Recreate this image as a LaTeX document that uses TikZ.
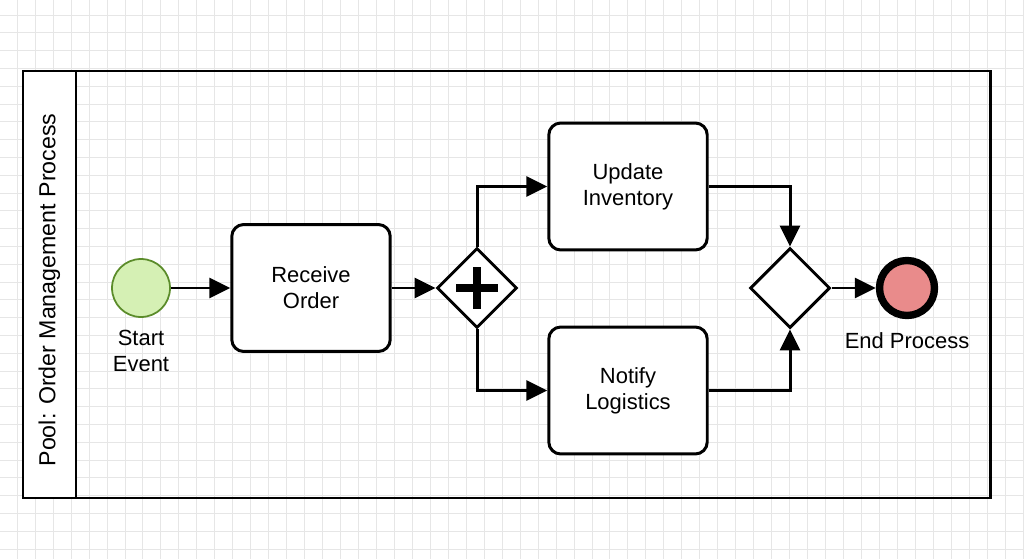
\documentclass[tikz,border=0pt]{standalone}
\usepackage{fontspec}
\setmainfont{Liberation Sans}
\usetikzlibrary{shapes.geometric,arrows.meta}

\definecolor{startgreen}{HTML}{D5F0B4}
\definecolor{startborder}{HTML}{5B8C2A}
\definecolor{endred}{HTML}{E98B8B}
\definecolor{gridgray}{HTML}{E6E6E6}

\begin{document}
\begin{tikzpicture}[x=0.02cm, y=0.02cm,
    gridline/.style={draw=gridgray, line width=0.55pt},
    task/.style={draw, rounded corners=0.24cm, line width=1.7pt, fill=white,
        minimum width=3.17cm, minimum height=2.54cm, align=center,
        font=\fontsize{12.5}{14.8}\selectfont},
    gateway/.style={draw, diamond, aspect=1, line width=1.7pt, fill=white,
        minimum size=1.6cm, inner sep=0pt},
    startev/.style={draw=startborder, circle, fill=startgreen, line width=1pt,
        minimum size=1.16cm, inner sep=0pt},
    endev/.style={draw, circle, fill=endred, line width=4.2pt,
        minimum size=1.1cm, inner sep=0pt},
    lbl/.style={align=center, font=\fontsize{12.5}{14.8}\selectfont},
    flow/.style={line width=1.7pt, -{Triangle[length=0.42cm, width=0.4cm]}}
]

\useasboundingbox (0,0) rectangle (1024,559);
\fill[white] (0,0) rectangle (1024,559);

% Background grid
\foreach \i in {0,...,57}{
    \draw[gridline] (\i*17.96-0.7, 0) -- (\i*17.96-0.7, 559);
}
\foreach \j in {0,...,31}{
    \draw[gridline] (0, 559-15-\j*17.8) -- (1024, 559-15-\j*17.8);
}

% Pool with vertical header
\fill[white] (23,61) rectangle (76,488);
\draw[line width=1.7pt] (23,61) rectangle (990,488);
\draw[line width=1.7pt] (76,61) -- (76,488);
\node[rotate=90, lbl, font=\fontsize{13.2}{15}\selectfont] (pool) at (49.5,269) {Pool: Order Management Process};

% Events, tasks and gateways
\node[startev] (start) at (141,271) {};
\node[lbl] (startlbl) at (141,208) {Start\\Event};
\node[task] (receive) at (311,271) {Receive\\Order};
\node[gateway] (fork) at (477,271) {};
\node[task] (update) at (628,372.5) {Update\\Inventory};
\node[task] (notify) at (628,168.5) {Notify\\Logistics};
\node[gateway] (join) at (790,271) {};
\node[endev] (finish) at (907,271) {};
\node[lbl] (finishlbl) at (907,218) {End Process};

% Parallel marker
\draw[line width=0.16cm] ([xshift=-0.42cm]fork.center) -- ([xshift=0.42cm]fork.center);
\draw[line width=0.16cm] ([yshift=-0.42cm]fork.center) -- ([yshift=0.42cm]fork.center);

% Sequence flows
\draw[flow] (start) -- (receive);
\draw[flow] (receive) -- (fork);
\draw[flow] (fork.north) |- (update.west);
\draw[flow] (fork.south) |- (notify.west);
\draw[flow] (update.east) -| (join.north);
\draw[flow] (notify.east) -| (join.south);
\draw[flow] (join) -- (finish);

\end{tikzpicture}
\end{document}
